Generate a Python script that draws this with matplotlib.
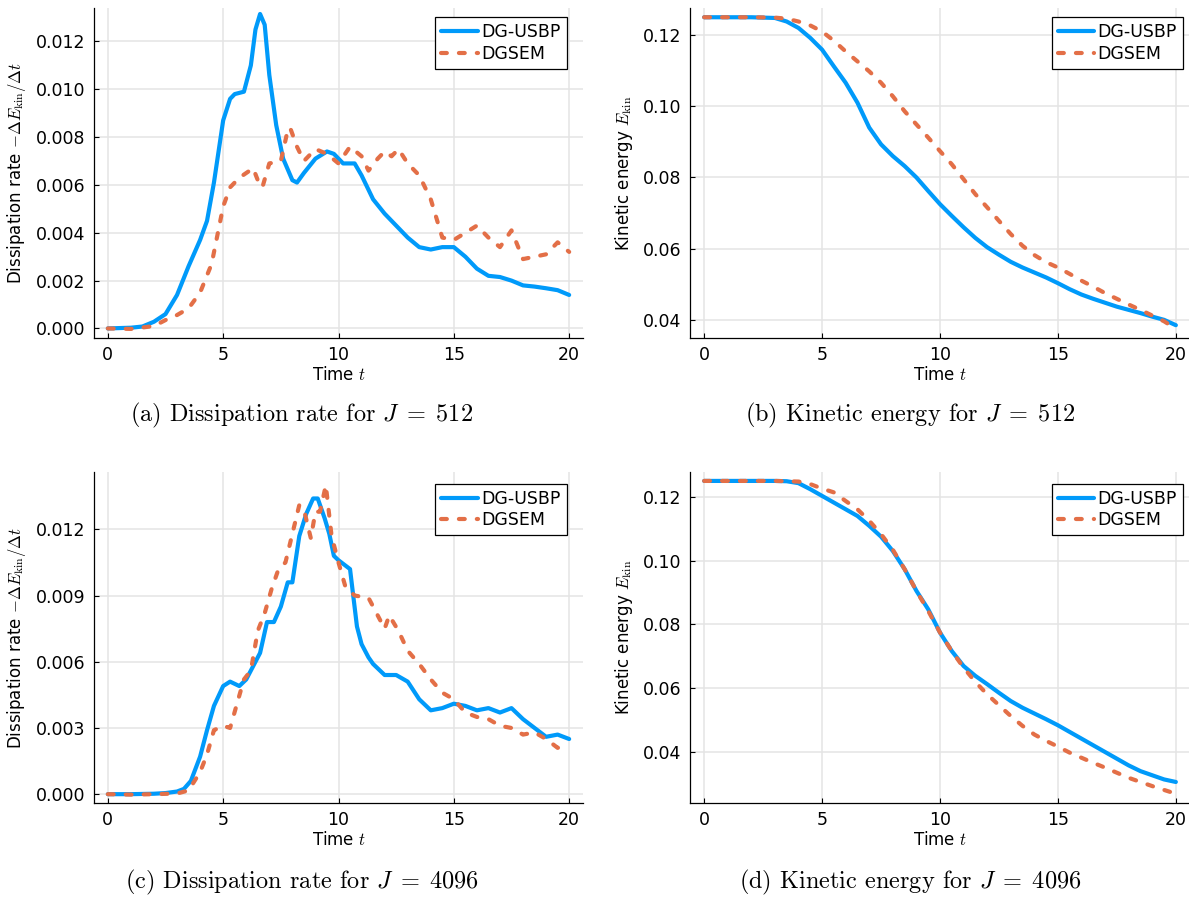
import numpy as np
import matplotlib
matplotlib.use("Agg")
import matplotlib.pyplot as plt
from matplotlib.ticker import FormatStrFormatter, MultipleLocator

plt.rcParams['mathtext.fontset'] = 'cm'
plt.rcParams['font.family'] = 'DejaVu Sans'

BLUE = '#009AFA'
ORANGE = '#E36F47'

# (a) dissipation rate, J = 512
ta_usbp = [0, 1, 1.5, 2, 2.5, 3, 3.5, 4, 4.3, 4.6, 5, 5.3, 5.5, 5.9, 6.2, 6.4, 6.6, 6.8, 7.0, 7.3, 7.6,
           8.0, 8.2, 8.5, 9, 9.5, 9.8, 10.2, 10.7, 11, 11.5, 12, 12.5, 13, 13.5, 14, 14.5, 15,
           15.5, 16, 16.5, 17, 17.5, 18, 18.5, 19, 19.5, 20]
da_usbp = [0, 0.00003, 0.00008, 0.00028, 0.0006, 0.0014, 0.0026, 0.0037, 0.0045, 0.0061, 0.0087, 0.0096,
           0.0098, 0.0099, 0.0110, 0.0125, 0.01315, 0.0127, 0.0106, 0.0085, 0.0071,
           0.0062, 0.0061, 0.0065, 0.0071, 0.0074, 0.0073, 0.0069, 0.0069, 0.0064, 0.0054, 0.0048,
           0.0043, 0.0038, 0.0034, 0.0033, 0.0034, 0.0034,
           0.0030, 0.0025, 0.0022, 0.00215, 0.0020, 0.0018, 0.00175, 0.00168, 0.0016, 0.0014]
ta_dgsem = [0, 1, 2, 2.5, 3, 3.5, 4, 4.5, 5, 5.3, 5.7, 6, 6.3, 6.5, 6.7, 7, 7.5, 7.8, 7.9, 8.2,
            8.5, 9, 9.5, 10, 10.5, 11, 11.3, 11.7, 12, 12.3, 12.6, 13, 13.5, 14, 14.5, 15, 15.5,
            16, 16.5, 17, 17.5, 18, 18.5, 19, 19.5, 20]
da_dgsem = [0, -0.00002, 0.0001, 0.00035, 0.00056, 0.00084, 0.0015, 0.0027, 0.0051, 0.0059, 0.0063,
            0.0065, 0.0067, 0.0062, 0.0059, 0.0069, 0.0070, 0.0083, 0.0084, 0.0076,
            0.0070, 0.0075, 0.0073, 0.0069, 0.0076, 0.0072, 0.0066, 0.0071, 0.0074, 0.0072, 0.0075,
            0.0069, 0.0064, 0.0054, 0.0038, 0.0037, 0.0040,
            0.0043, 0.0038, 0.0034, 0.0041, 0.0029, 0.0030, 0.0031, 0.0036, 0.0032]

# (b) kinetic energy, J = 512
tb_usbp = [0, 1, 2, 3, 3.5, 4, 4.5, 5, 5.5, 6, 6.5, 7, 7.5, 8, 8.5, 9, 9.5, 10, 10.5, 11, 11.5,
           12, 12.5, 13, 13.5, 14, 14.5, 15, 15.5, 16, 16.5, 17, 17.5, 18, 18.5, 19, 19.5, 20]
eb_usbp = [0.125, 0.125, 0.125, 0.1248, 0.1238, 0.1220, 0.1192, 0.1159, 0.1112, 0.1066, 0.1010,
           0.0940, 0.0893, 0.0860, 0.0832, 0.0800, 0.0762, 0.0725, 0.0692, 0.0660, 0.0630,
           0.0604, 0.0583, 0.0563, 0.0547, 0.0533, 0.0519, 0.0503, 0.0486, 0.0471, 0.0459,
           0.0448, 0.0437, 0.0428, 0.0419, 0.0409, 0.0400, 0.0385]
tb_dgsem = [0, 1, 2, 3, 3.5, 4, 4.5, 5, 5.5, 6, 6.5, 7, 7.5, 8, 8.5, 9, 9.5, 10, 10.5, 11, 11.5,
            12, 12.5, 13, 13.5, 14, 14.5, 15, 15.5, 16, 16.5, 17, 17.5, 18, 18.5, 19, 19.5, 20]
eb_dgsem = [0.125, 0.125, 0.125, 0.1249, 0.1246, 0.1238, 0.1227, 0.1210, 0.1184, 0.1154, 0.1126,
            0.1098, 0.1066, 0.1028, 0.0986, 0.0949, 0.0912, 0.0874, 0.0837, 0.0795, 0.0753,
            0.0716, 0.0678, 0.0641, 0.0608, 0.0582, 0.0562, 0.0547, 0.0529, 0.0510, 0.0493,
            0.0475, 0.0459, 0.0443, 0.0428, 0.0412, 0.0396, 0.0375]

# (c) dissipation rate, J = 4096
tc_usbp = [0, 1, 2, 2.5, 3, 3.3, 3.6, 4, 4.3, 4.6, 5, 5.3, 5.7, 6, 6.3, 6.6, 6.9, 7.2, 7.5, 7.8,
           8.0, 8.3, 8.6, 8.9, 9.1, 9.4, 9.6, 9.8, 10.0, 10.5, 10.8, 11, 11.3, 11.5, 12, 12.5,
           13, 13.5, 14, 14.5, 15, 15.5, 16, 16.5, 17, 17.5, 18, 18.5, 19, 19.5, 20]
dc_usbp = [0, 0, 0.00002, 0.00005, 0.00012, 0.00024, 0.0006, 0.0017, 0.0029, 0.0040, 0.0049,
           0.0051, 0.0049, 0.0052, 0.0058, 0.0064, 0.0078, 0.0078, 0.0085, 0.0096,
           0.0096, 0.0117, 0.0127, 0.0134, 0.0134, 0.0125, 0.0118, 0.0108, 0.0106, 0.0102,
           0.0076, 0.0068, 0.0062, 0.0059, 0.0054, 0.0054,
           0.0051, 0.0043, 0.0038, 0.0039, 0.0041, 0.0040, 0.0038, 0.0039, 0.0037, 0.0039,
           0.0034, 0.0030, 0.0026, 0.0027, 0.0025]
tc_dgsem = [0, 1, 2, 3, 3.5, 4, 4.3, 4.6, 5, 5.3, 5.6, 5.9, 6.2, 6.5, 6.8, 7.1, 7.4, 7.7, 8.0,
            8.3, 8.5, 8.8, 9.0, 9.2, 9.45, 9.7, 10.0, 10.3, 10.7, 11.3, 11.7, 12.0, 12.2, 12.6,
            13, 13.5, 14, 14.5, 15, 15.5, 16, 16.5, 17, 17.5, 18, 18.5, 19, 19.5, 20]
dc_dgsem = [0, -0.00002, 0, 0.00003, 0.00017, 0.0010, 0.0018, 0.0029, 0.0031, 0.0030, 0.0041,
            0.0052, 0.0056, 0.0074, 0.0082, 0.0093, 0.0102, 0.0105, 0.0118,
            0.0131, 0.0129, 0.0116, 0.0128, 0.0128, 0.0140, 0.0117, 0.0105, 0.0094, 0.0090,
            0.0089, 0.0081, 0.0075, 0.0081, 0.0074,
            0.0065, 0.0059, 0.0052, 0.0046, 0.0043, 0.0037, 0.0035, 0.0034, 0.0031, 0.0030,
            0.0027, 0.0028, 0.0025, 0.0021, 0.0022]

# (d) kinetic energy, J = 4096
td_usbp = [0, 1, 2, 3, 3.5, 4, 4.5, 5, 5.5, 6, 6.5, 7, 7.5, 8, 8.5, 9, 9.5, 10, 10.5, 11, 11.5,
           12, 12.5, 13, 13.5, 14, 14.5, 15, 15.5, 16, 16.5, 17, 17.5, 18, 18.5, 19, 19.5, 20]
ed_usbp = [0.125, 0.125, 0.125, 0.125, 0.1249, 0.1243, 0.1224, 0.1203, 0.1182, 0.1161, 0.1140,
           0.1109, 0.1075, 0.1030, 0.0973, 0.0905, 0.0847, 0.0774, 0.0716, 0.0669, 0.0638,
           0.0612, 0.0585, 0.0559, 0.0538, 0.0520, 0.0502, 0.0483, 0.0462, 0.0441, 0.0420,
           0.0399, 0.0378, 0.0357, 0.0339, 0.0326, 0.0313, 0.0305]
td_dgsem = [0, 1, 2, 3, 4, 4.5, 5, 5.5, 6, 6.5, 7, 7.5, 8, 8.5, 9, 9.5, 10, 10.5, 11, 11.5,
            12, 12.5, 13, 13.5, 14, 14.5, 15, 15.5, 16, 16.5, 17, 17.5, 18, 18.5, 19, 19.5, 20]
ed_dgsem = [0.125, 0.125, 0.125, 0.125, 0.1248, 0.1240, 0.1226, 0.1214, 0.1187, 0.1161, 0.1125,
            0.1083, 0.1034, 0.0973, 0.0905, 0.0842, 0.0774, 0.0716, 0.0664, 0.0619,
            0.0580, 0.0546, 0.0512, 0.0481, 0.0454, 0.0434, 0.0416, 0.0397, 0.0381, 0.0365,
            0.0350, 0.0334, 0.0318, 0.0305, 0.0292, 0.0280, 0.0268]

labels = ['DG-USBP', 'DGSEM']
captions = [r'(a) Dissipation rate for $J\;=\;512$', r'(b) Kinetic energy for $J\;=\;512$',
            r'(c) Dissipation rate for $J\;=\;4096$', r'(d) Kinetic energy for $J\;=\;4096$']
ylabel_diss = r'Dissipation rate $-\Delta E_{\mathrm{kin}} / \Delta t$'
ylabel_ekin = r'Kinetic energy $E_{\mathrm{kin}}$'

W, H = 1189, 897
fig = plt.figure(figsize=(W / 100, H / 100), dpi=100)


def make_axes(left, top, right, bottom):
    return fig.add_axes([left / W, 1 - bottom / H, (right - left) / W, (bottom - top) / H])


def style(ax, ylim, ystep, fmt, ylabel, legend_anchor):
    ax.set_xlim(-0.6, 20.6)
    ax.set_ylim(*ylim)
    ax.xaxis.set_major_locator(MultipleLocator(5))
    ax.yaxis.set_major_locator(MultipleLocator(ystep))
    ax.yaxis.set_major_formatter(FormatStrFormatter(fmt))
    ax.grid(True, color='#e4e4e4', lw=1.1)
    ax.set_axisbelow(True)
    for s in ['top', 'right']:
        ax.spines[s].set_visible(False)
    for s in ['left', 'bottom']:
        ax.spines[s].set_linewidth(0.9)
    ax.tick_params(direction='in', length=3.5, width=0.8, labelsize=12.5, pad=6)
    ax.set_xlabel(r'Time $t$', fontsize=12, labelpad=1)
    ax.set_ylabel(ylabel, fontsize=12, labelpad=6)
    leg = ax.legend(loc='upper right', bbox_to_anchor=legend_anchor, fontsize=12.5,
                    fancybox=False, edgecolor='black', framealpha=1, handlelength=2.1,
                    handletextpad=0.2, borderpad=0.35, labelspacing=0.2, borderaxespad=0)
    leg.get_frame().set_linewidth(0.9)


def draw(ax, t1, y1, t2, y2):
    ax.plot(t1, y1, color=BLUE, lw=3, label=labels[0], solid_capstyle='round',
            solid_joinstyle='round')
    ax.plot(t2, y2, color=ORANGE, lw=3, ls=(0, (1.4, 2.9)), dash_capstyle='round',
            dash_joinstyle='round', label=labels[1])


ax_a = make_axes(94, 8, 583, 338)
draw(ax_a, ta_usbp, da_usbp, ta_dgsem, da_dgsem)
style(ax_a, (-0.0004, 0.0134), 0.002, '%.3f', ylabel_diss, (0.967, 0.972))

ax_b = make_axes(690, 8, 1190, 338)
draw(ax_b, tb_usbp, eb_usbp, tb_dgsem, eb_dgsem)
style(ax_b, (0.0349, 0.1276), 0.02, '%.2f', ylabel_ekin, (0.986, 0.972))

ax_c = make_axes(94, 472, 583, 803)
draw(ax_c, tc_usbp, dc_usbp, tc_dgsem, dc_dgsem)
style(ax_c, (-0.0004, 0.0146), 0.003, '%.3f', ylabel_diss, (0.967, 0.965))

ax_d = make_axes(690, 472, 1190, 803)
draw(ax_d, td_usbp, ed_usbp, td_dgsem, ed_dgsem)
style(ax_d, (0.0239, 0.1278), 0.02, '%.2f', ylabel_ekin, (0.986, 0.965))

cap_pos = [(302, 415), (910, 415), (302, 882), (910, 882)]
for (cx, cy), cap in zip(cap_pos, captions):
    fig.text(cx / W, 1 - cy / H, cap, family='cmr10', fontsize=17.5, ha='center', va='center')

fig.savefig('out.png', dpi=100)
